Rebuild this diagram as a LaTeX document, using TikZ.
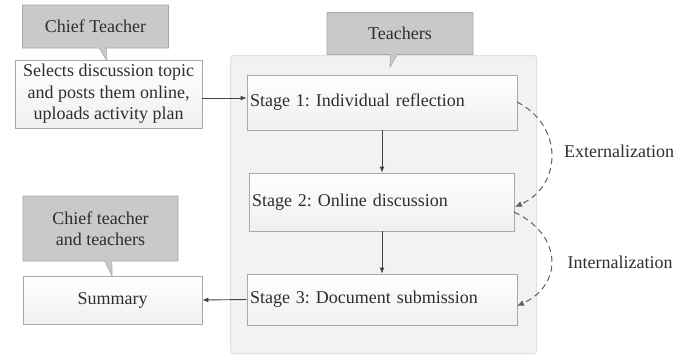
\documentclass[tikz,border=0pt]{standalone}
\usepackage{fontspec}
\setmainfont{Liberation Serif}
\frenchspacing
\usetikzlibrary{shapes.callouts,arrows.meta}
\definecolor{txt}{HTML}{2E2E2E}
\definecolor{edge}{HTML}{A8A8A8}
\definecolor{calloutfill}{HTML}{C9C9C9}
\definecolor{linecol}{HTML}{444444}
\begin{document}
\begin{tikzpicture}[x=1pt,y=-1pt,
  font=\fontsize{18}{21.5}\selectfont, text=txt,
  boxstyle/.style={draw=edge, line width=0.8pt, top color=white, bottom color=black!6, inner ysep=0pt},
  stagebox/.style={boxstyle, align=left, inner xsep=3pt},
  talk/.style={rectangle callout, draw=edge, line width=0.6pt, fill=calloutfill, inner sep=0pt, align=center},
  flow/.style={draw=linecol, line width=0.9pt, -{Latex[length=6pt,width=5pt]}},
  loopy/.style={draw=linecol!85, line width=1pt, dash pattern=on 6pt off 4pt, -{Latex[length=7pt,width=6pt]}}
]
\useasboundingbox (0,0) rectangle (685,360);

% container
\node[draw=black!12, fill=black!5, rounded corners=3pt, line width=1pt,
      minimum width=306, minimum height=298, anchor=north west, inner sep=0pt] (cont) at (230,55) {};

% callouts
\node[talk, minimum width=146, minimum height=43, callout absolute pointer={(107,61)}] (ct) at (95.5,26.5) {Chief Teacher};
\node[talk, minimum width=146, minimum height=42, callout absolute pointer={(390,67)}] (tc) at (400,33.5) {Teachers};
\node[talk, minimum width=155, minimum height=65, callout absolute pointer={(112,276)}] (ctt) at (100.5,228.5) {Chief teacher\\and teachers};

% boxes
\node[boxstyle, minimum width=187, minimum height=68, align=center, inner xsep=0pt] (sel) at (108.5,94) {Selects discussion topic\\and posts them online,\\uploads activity plan};
\node[stagebox, text width=264, minimum height=55] (s1) at (382,102.5) {Stage 1: Individual reflection};
\node[stagebox, text width=259, minimum height=58] (s2) at (381.5,202) {Stage 2: Online discussion};
\node[stagebox, text width=264, minimum height=51] (s3) at (382,299.5) {Stage 3: Document submission};
\node[boxstyle, minimum width=179, minimum height=48] (sum) at (112.5,300) {Summary};

% labels
\node (ext) at (619,151) {Externalization};
\node (int) at (620,262) {Internalization};

% connectors
\draw[flow] (sel.east |- 0,98) -- (s1.west |- 0,98);
\draw[flow] (s1.south -| 382,0) -- (s2.north -| 382,0);
\draw[flow] (s2.south -| 382,0) -- (s3.north -| 382,0);
\draw[flow] (s3.west) -- (sum.east);

\coordinate (a1) at (517,102);
\coordinate (b1) at (515,207);
\coordinate (a2) at (514,212);
\coordinate (b2) at (517,306);
\draw[loopy] (a1) .. controls (563,125) and (563,185) .. (b1);
\draw[loopy] (a2) .. controls (563,235) and (563,285) .. (b2);
\end{tikzpicture}
\end{document}
